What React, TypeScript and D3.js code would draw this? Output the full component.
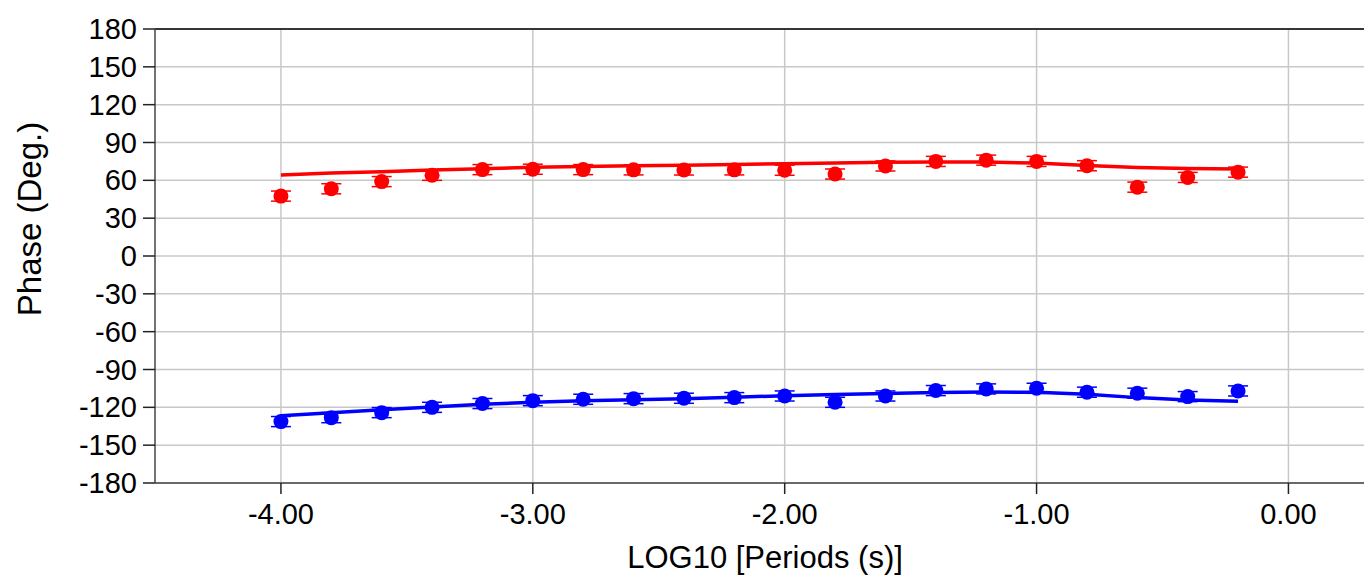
import React from "react";
import * as d3 from "d3";

const periods = [-4.0, -3.8, -3.6, -3.4, -3.2, -3.0, -2.8, -2.6, -2.4, -2.2, -2.0, -1.8, -1.6, -1.4, -1.2, -1.0, -0.8, -0.6, -0.4, -0.2];
const redObs = [47.5, 53.3, 59.0, 64.0, 68.5, 68.8, 68.5, 68.3, 68.2, 68.3, 68.0, 65.0, 71.4, 75.0, 76.0, 75.0, 71.6, 54.6, 62.3, 66.5];
const redErr = [4, 4, 4, 4, 4, 4, 4, 4, 4, 4, 4, 4, 4, 4, 4, 4, 4, 4, 4, 4];
const redFit = [64.3, 65.8, 66.8, 68.2, 69.2, 70.3, 71.0, 71.5, 71.9, 72.6, 73.2, 73.8, 74.3, 74.6, 74.5, 73.7, 71.8, 70.2, 69.3, 69.0];
const blueObs = [-131.3, -128.2, -124.2, -120.0, -117.0, -114.7, -113.6, -113.1, -112.8, -112.3, -111.0, -116.0, -111.0, -106.7, -105.4, -104.9, -108.0, -108.8, -111.5, -107.0];
const blueErr = [4, 4, 4, 4, 4, 4, 4, 4, 4, 4, 4, 4, 4, 4, 4, 4, 4, 4, 4, 4];
const blueFit = [-126.6, -124.2, -122.0, -119.7, -117.6, -116.0, -114.7, -113.9, -113.1, -112.0, -110.8, -109.9, -109.0, -108.3, -107.9, -108.0, -109.6, -112.3, -114.1, -115.2];
const xTicks = [-4, -3, -2, -1, 0];
const yTicks = [-180, -150, -120, -90, -60, -30, 0, 30, 60, 90, 120, 150, 180];

const W = 1364;
const H = 582;
const left = 155;
const right = 1364;
const top = 29;
const bottom = 483;
const font = "'Liberation Sans', Arial, sans-serif";

export default function App() {
  const x = d3.scaleLinear().domain([-4.5, 0.3]).range([left, right]);
  const y = d3.scaleLinear().domain([-180, 180]).range([bottom, top]);
  const line = d3
    .line<[number, number]>()
    .x((d) => x(d[0]))
    .y((d) => y(d[1]));

  const series = [
    { color: "#ff0000", obs: redObs, err: redErr, fit: redFit },
    { color: "#0000ff", obs: blueObs, err: blueErr, fit: blueFit },
  ];

  return (
    <svg
      width={W}
      height={H}
      style={{ position: "absolute", left: 0, top: 0, background: "#fff" }}
    >
      {yTicks.map((t) => (
        <line key={"gy" + t} x1={left} x2={right} y1={y(t)} y2={y(t)} stroke="#c8c8c8" strokeWidth={1.5} />
      ))}
      {xTicks.map((t) => (
        <line key={"gx" + t} x1={x(t)} x2={x(t)} y1={top} y2={bottom} stroke="#c8c8c8" strokeWidth={1.5} />
      ))}
      <line x1={left} x2={right} y1={top} y2={top} stroke="#000" strokeWidth={1.5} />
      <line x1={left} x2={left} y1={top} y2={bottom} stroke="#444" strokeWidth={1.5} />
      <line x1={left} x2={right} y1={bottom} y2={bottom} stroke="#444" strokeWidth={1.5} />
      {yTicks.map((t) => (
        <g key={"ty" + t}>
          <line x1={left - 12} x2={left} y1={y(t)} y2={y(t)} stroke="#222" strokeWidth={1.5} />
          <text x={left - 18} y={y(t)} dy="0.35em" textAnchor="end" fontFamily={font} fontSize={29} fill="#000">
            {t}
          </text>
        </g>
      ))}
      {xTicks.map((t) => (
        <g key={"tx" + t}>
          <line x1={x(t)} x2={x(t)} y1={bottom} y2={bottom + 11} stroke="#222" strokeWidth={1.5} />
          <text x={x(t)} y={524} textAnchor="middle" fontFamily={font} fontSize={29} fill="#000">
            {t.toFixed(2)}
          </text>
        </g>
      ))}
      <text x={765} y={568} textAnchor="middle" fontFamily={font} fontSize={31} fill="#000">
        LOG10 [Periods (s)]
      </text>
      <text
        transform={`translate(41, 219) rotate(-90)`}
        textAnchor="middle"
        fontFamily={font}
        fontSize={33}
        fill="#000"
      >
        Phase (Deg.)
      </text>
      {series.map((s, si) => (
        <g key={"s" + si}>
          <path
            d={line(periods.map((p, i) => [p, s.fit[i]] as [number, number])) || ""}
            fill="none"
            stroke={s.color}
            strokeWidth={3.5}
          />
          {periods.map((p, i) => {
            const cx = x(p);
            const y1 = y(s.obs[i] + s.err[i]);
            const y2 = y(s.obs[i] - s.err[i]);
            return (
              <g key={i}>
                <line x1={cx} x2={cx} y1={y1} y2={y2} stroke={s.color} strokeWidth={1.5} />
                <line x1={cx - 10} x2={cx + 10} y1={y1} y2={y1} stroke={s.color} strokeWidth={1.5} />
                <line x1={cx - 10} x2={cx + 10} y1={y2} y2={y2} stroke={s.color} strokeWidth={1.5} />
                <circle cx={cx} cy={y(s.obs[i])} r={7.5} fill={s.color} />
              </g>
            );
          })}
        </g>
      ))}
    </svg>
  );
}
